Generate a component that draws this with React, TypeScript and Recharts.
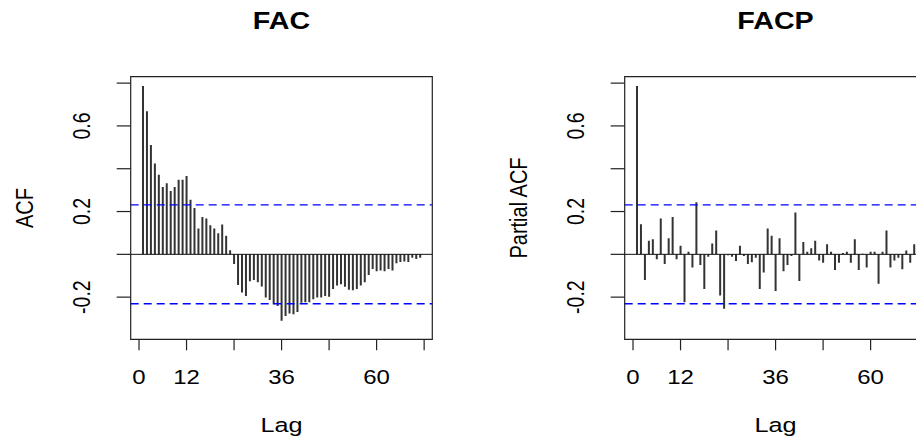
import React from 'react';
import { BarChart, Bar, XAxis, YAxis, ReferenceLine, ReferenceArea } from 'recharts';

// autocorrelations, lags 1..71
const acfValues = [
  0.787, 0.668, 0.511, 0.424, 0.372, 0.315, 0.332, 0.296, 0.315, 0.349,
  0.349, 0.366, 0.255, 0.217, 0.121, 0.174, 0.168, 0.136, 0.121, 0.098,
  0.139, 0.087, 0.019, -0.045, -0.143, -0.178, -0.195, -0.126, -0.12, -0.131,
  -0.15, -0.202, -0.213, -0.234, -0.241, -0.31, -0.288, -0.276, -0.28, -0.269,
  -0.226, -0.224, -0.224, -0.21, -0.202, -0.202, -0.195, -0.198, -0.162, -0.146,
  -0.14, -0.151, -0.165, -0.168, -0.162, -0.146, -0.131, -0.097, -0.069, -0.079,
  -0.075, -0.079, -0.069, -0.075, -0.042, -0.036, -0.033, -0.036, -0.016, -0.022,
  -0.016,
];

// partial autocorrelations, lags 1..71
const pacfValues = [
  0.787, 0.14, -0.12, 0.064, 0.07, -0.023, 0.168, -0.045, 0.075, 0.174,
  -0.023, 0.04, -0.224, 0.012, -0.062, 0.243, -0.05, -0.162, -0.011, 0.051,
  0.111, -0.192, -0.254, -0.004, -0.011, -0.031, 0.04, -0.008, -0.045, -0.037,
  -0.016, -0.162, -0.085, 0.121, 0.087, -0.171, 0.075, -0.079, -0.05, -0.008,
  0.196, -0.125, 0.058, 0.012, 0.028, 0.064, -0.029, -0.039, 0.047, 0.012,
  -0.073, -0.039, 0.006, 0.012, -0.039, 0.07, -0.073, 0.003, -0.062, 0.012,
  0.012, -0.137, 0.012, 0.111, -0.062, -0.029, -0.016, -0.07, 0.018, -0.039,
  0.047,
];

const xTicks = [0, 12, 24, 36, 48, 60, 72];
const xLabelled = [0, 12, 36, 60];
const yTicks = [-0.2, 0, 0.2, 0.4, 0.6, 0.8];
const yLabelled = [-0.2, 0.2, 0.6];
const ci = 0.231;

const X_MIN = -2.1;
const X_MAX = 74.06;
const Y_MIN = -0.397;
const Y_MAX = 0.83;

const W = 500;
const H = 437;
const BOX = { left: 130.7, right: 432.3, top: 76.7, bottom: 339.3 };
const SX = 1.23; // the original is stretched horizontally
const FONT = '"Liberation Sans", Arial, sans-serif';
const INK = '#222';

const toRows = (vals: number[]) => vals.map((v, i) => ({ lag: i + 1, v }));

const XTick = (props: any) => {
  const { x, payload } = props;
  return (
    <g>
      <line x1={x} x2={x} y1={BOX.bottom} y2={BOX.bottom + 11} stroke={INK} strokeWidth={1.2} />
      {xLabelled.includes(payload.value) && (
        <g transform={`translate(${x},383.5) scale(${SX},1)`}>
          <text textAnchor="middle" fontSize={19.5} fontFamily={FONT} fill="#000">{payload.value}</text>
        </g>
      )}
    </g>
  );
};

const YTick = (props: any) => {
  const { y, payload } = props;
  return (
    <g>
      <line x1={BOX.left - 14} x2={BOX.left} y1={y} y2={y} stroke={INK} strokeWidth={1.2} />
      {yLabelled.includes(payload.value) && (
        <g transform={`translate(82,${y}) scale(${SX},1) rotate(-90)`}>
          <text textAnchor="middle" dominantBaseline="central" fontSize={19.5} fontFamily={FONT} fill="#000">
            {payload.value}
          </text>
        </g>
      )}
    </g>
  );
};

const Panel = ({ left, title, ylab, values }: { left: number; title: string; ylab: string; values: number[] }) => (
  <div style={{ position: 'absolute', left, top: 0, width: W, height: H }}>
    <BarChart
      width={W}
      height={H}
      data={toRows(values)}
      margin={{ top: BOX.top, left: BOX.left - 60, right: W - BOX.right, bottom: H - BOX.bottom - 30 }}
    >
      <XAxis
        dataKey="lag"
        type="number"
        domain={[X_MIN, X_MAX]}
        ticks={xTicks}
        interval={0}
        height={30}
        axisLine={false}
        tickLine={false}
        tick={<XTick />}
        allowDataOverflow
      />
      <YAxis
        type="number"
        domain={[Y_MIN, Y_MAX]}
        ticks={yTicks}
        interval={0}
        width={60}
        axisLine={false}
        tickLine={false}
        tick={<YTick />}
        allowDataOverflow
      />
      <ReferenceArea x1={X_MIN} x2={X_MAX} y1={Y_MIN} y2={Y_MAX} fill="none" fillOpacity={0} stroke={INK} strokeWidth={1.2} ifOverflow="visible" />
      <ReferenceLine y={0} stroke="#111" strokeWidth={1} />
      <ReferenceLine y={ci} stroke="#0000ff" strokeWidth={1.3} strokeDasharray="8 5" />
      <ReferenceLine y={-ci} stroke="#0000ff" strokeWidth={1.3} strokeDasharray="8 5" />
      <Bar dataKey="v" fill="#333" barSize={2} isAnimationActive={false} />
    </BarChart>
    <svg width={W} height={H} style={{ position: 'absolute', left: 0, top: 0, pointerEvents: 'none' }}>
      <g transform={`translate(281.5,29.3) scale(${SX},1)`}>
        <text textAnchor="middle" fontSize={23.3} fontWeight="bold" fontFamily={FONT} fill="#000">{title}</text>
      </g>
      <g transform={`translate(281.5,431.7) scale(${SX},1)`}>
        <text textAnchor="middle" fontSize={20.5} fontFamily={FONT} fill="#000">Lag</text>
      </g>
      <g transform={`translate(25,208) scale(${SX},1) rotate(-90)`}>
        <text textAnchor="middle" dominantBaseline="central" fontSize={20} fontFamily={FONT} fill="#000">{ylab}</text>
      </g>
    </svg>
  </div>
);

export default function App() {
  return (
    <div style={{ position: 'absolute', left: 0, top: 0, width: 916, height: 437, overflow: 'hidden', background: '#fff' }}>
      <Panel left={0} title="FAC" ylab="ACF" values={acfValues} />
      <Panel left={493.6} title="FACP" ylab="Partial ACF" values={pacfValues} />
    </div>
  );
}
